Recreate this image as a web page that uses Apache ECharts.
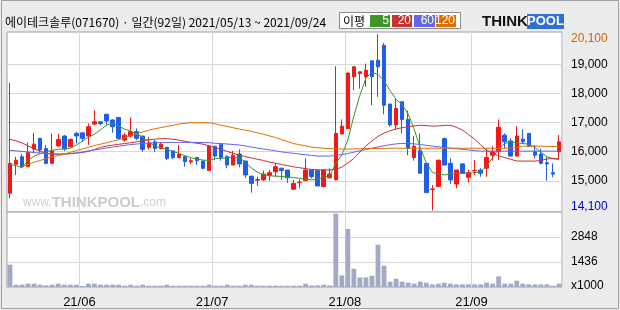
<!DOCTYPE html>
<html><head><meta charset="utf-8">
<script src="https://cdn.jsdelivr.net/npm/echarts@6/dist/echarts.min.js"></script>
<style>html,body{margin:0;padding:0;background:#ececec}#c{width:620px;height:310px}</style>
</head><body><div id="c"></div>
<script>
// trading days per month
const monthDays = {
  '2021-05': [13,14,17,18,20,21,24,25,26,27,28,31],
  '2021-06': [1,2,3,4,7,8,9,10,11,14,15,16,17,18,21,22,23,24,25,28,29,30],
  '2021-07': [1,2,5,6,7,8,9,12,13,14,15,16,19,20,21,22,23,26,27,28,29,30],
  '2021-08': [2,3,4,5,6,9,10,11,12,13,17,18,19,20,23,24,25,26,27,30,31],
  '2021-09': [1,2,3,6,7,8,9,10,13,14,15,16,17,23,24]
};
const dates = [];
Object.keys(monthDays).forEach(m => monthDays[m].forEach(d => dates.push(m + '-' + String(d).padStart(2,'0'))));

const open  = [14570,15570,15830,15480,16090,16460,16110,15600,16200,16540,16170,16630,16650,16540,16950,17030,17290,17090,17180,16400,16540,16690,16540,16150,16340,16110,16150,16030,15800,15830,15650,15800,15680,15350,16190,16260,15830,15540,15920,15680,15160,15020,15030,15190,15310,15430,15370,14710,14930,15000,15370,15350,14800,15100,15030,16610,16800,18580,18690,18580,19130,19150,19660,17640,16920,17720,17110,15800,16030,15600,14700,14800,16450,15600,14890,15580,15120,15340,15370,15430,15880,16000,16570,16370,15850,16430,16630,16000,15920,15620,15280,16000];
const close = [15600,15710,15480,15980,16260,16060,15600,16030,16420,16090,16420,16540,16460,16860,17030,16970,17060,16860,16460,16570,16690,16460,16080,16290,16110,16260,15770,15800,15910,15660,15690,15690,15430,16200,15850,15790,15540,15880,15580,15200,14910,15040,15230,15280,15480,15350,15100,14910,14950,15370,15140,14820,15370,15230,16630,16880,18710,18920,18750,18800,18580,18920,17600,16920,17490,17110,16110,16190,15260,14590,14720,15710,15540,15030,15370,15260,15280,15350,15260,15800,16000,16840,16340,15850,16540,16340,16190,15880,15600,15580,15230,16340];
const low   = [14400,15200,15430,15480,15940,15960,15570,15570,16170,16030,16150,16280,16340,16230,16910,16910,16910,16650,16420,16340,16490,16400,16000,16080,16000,16080,15710,15740,15770,15480,15570,15540,15390,15350,15710,15690,15430,15540,15460,15100,14590,14820,15000,15000,15140,15030,14930,14680,14740,15000,15080,14820,14800,15080,15030,16610,16800,18120,18170,18230,17600,17890,17290,16860,16770,16630,15880,15690,15260,14590,13980,14800,15540,14890,14740,15230,14930,15200,15140,15140,15690,15710,16110,15830,15830,16260,16170,15770,15570,15000,15120,15770];
const high  = [18370,15830,15920,16320,16650,16460,16230,16630,16610,16570,16460,16690,16650,16970,17430,17030,17290,17110,17180,16650,17180,16800,16540,16510,16400,16310,16170,16030,16230,15850,15770,15800,15680,16230,16190,16260,15880,16030,16080,15680,15160,15140,15350,15370,15600,15460,15370,15030,15050,15770,15370,15350,15390,15430,18940,17110,18710,18940,18750,19030,19130,20050,19740,17640,17830,17720,17410,16540,16630,15600,14850,15710,16490,15770,15370,15600,15370,15710,15430,16110,16190,17110,16630,16460,16880,16770,16630,16230,16110,15830,15600,16570];
const volume = [1272,133,133,190,190,133,95,133,190,133,133,133,57,190,190,133,133,133,133,76,133,76,133,76,76,76,133,76,76,76,76,76,76,133,76,76,133,76,76,133,133,76,76,76,76,76,76,76,76,190,95,95,133,95,4176,665,3304,1044,551,551,646,2411,1215,304,475,304,247,190,304,247,152,190,247,190,152,152,152,152,152,247,190,608,190,190,361,190,152,152,152,152,76,190];
const ma5   = [15560,15520,15450,15700,15850,15930,15990,16050,16085,16100,16120,16230,16365,16500,16600,16750,16915,16980,16880,16780,16710,16610,16495,16350,16180,16140,16075,16010,15945,15860,15790,15750,15710,15700,15760,15775,15790,15804,15780,15660,15440,15300,15210,15170,15160,15150,15135,15110,15085,15060,15030,15060,15110,15170,15600,15880,16400,17230,17945,18540,18740,18650,18450,18100,17800,17620,17300,16770,16140,15620,15290,15230,15200,15230,15255,15255,15255,15280,15310,15500,15800,16100,16280,16340,16310,16280,16260,16150,15980,15830,15760,15730];
const ma20  = [16430,16370,16300,16200,16100,16020,15950,15915,15915,15915,15930,15950,15975,16010,16080,16150,16195,16225,16255,16280,16310,16340,16380,16410,16430,16450,16450,16430,16400,16360,16320,16290,16260,16200,16140,16080,16010,15942,15890,15830,15785,15740,15700,15640,15605,15560,15520,15480,15450,15415,15390,15380,15370,15375,15390,15470,15610,15770,15990,16200,16370,16530,16640,16720,16780,16830,16860,16890,16910,16900,16880,16890,16905,16910,16840,16745,16590,16440,16240,16050,15940,15860,15800,15740,15680,15678,15678,15678,15700,15750,15770,15760];
const ma60  = [16050,16030,16010,15990,15970,15955,15940,15925,15920,15925,15940,15960,15990,16030,16060,16090,16130,16160,16190,16220,16245,16265,16285,16300,16308,16312,16316,16320,16320,16320,16320,16320,16315,16310,16290,16280,16265,16250,16230,16200,16160,16125,16095,16060,16030,15995,15970,15945,15920,15895,15870,15850,15850,15850,15870,15900,15940,15985,16030,16080,16120,16165,16205,16240,16270,16285,16285,16270,16245,16220,16195,16170,16148,16125,16100,16080,16060,16035,16020,16020,16020,16020,16020,16020,16020,16020,16020,16020,16020,16020,16020,16020];
const ma120 = [null,null,15480,15560,15640,15700,15760,15820,15870,15920,15980,16040,16090,16150,16210,16260,16310,16360,16410,16480,16560,16620,16680,16740,16790,16830,16870,16910,16950,16980,17000,17000,17000,16995,16960,16910,16870,16823,16780,16740,16700,16650,16600,16545,16490,16420,16350,16280,16240,16200,16160,16135,16120,16110,16100,16090,16090,16095,16100,16105,16110,16113,16115,16120,16125,16120,16120,16120,16120,16120,16120,16120,16120,16120,16120,16120,16120,16120,16120,16120,16120,16120,16120,16120,16150,16190,16190,16190,16190,16185,16180,16180];

const priceGridValues = [15000,16000,17000,18000,19000];
const priceLabelValues = [14100,15000,16000,17000,18000,19000,20100];
const volumeLabelValues = [1436,2848];
const titleText = '에이테크솔루(071670) · 일간(92일) 2021/05/13 ~ 2021/09/24';
const maNames = ['5','20','60','120'];

const C_UP = '#f01818', C_DN = '#1f5ee6';
const MA_COL = ['#3c9628','#c83232','#6464e6','#e07000'];
const LAT = '"Liberation Sans", Arial, sans-serif';
const KR = '"Noto Sans CJK KR", sans-serif';

const kdata = dates.map((d,i) => [open[i], close[i], low[i], high[i]]);
const isMonthStart = i => i > 0 && dates[i].slice(5,7) !== dates[i-1].slice(5,7);
const fmt = v => Number(v).toLocaleString('en-US');
const maxLbl = Math.max(...priceLabelValues), minLbl = Math.min(...priceLabelValues);

const chart = echarts.init(document.getElementById('c'));
const splitX = {show:true, interval:(i)=>isMonthStart(i), lineStyle:{color:'#d8d8d8', width:1}};
const legendG = [];
const lx = [370,392,414,436], lw = [20,20,21,20];
maNames.forEach((n,k)=>{
  legendG.push({type:'rect', shape:{x:lx[k], y:15, width:lw[k], height:12}, style:{fill:MA_COL[k]}});
  legendG.push({type:'text', x:lx[k]+lw[k]-1, y:21, style:{text:n, fill:'#fff', font:'12px '+LAT, align:'right', verticalAlign:'middle'}});
});

chart.setOption({
  backgroundColor:'#ececec',
  animation:false,
  grid:[
    {left:7, right:58, top:32, height:180, show:true, backgroundColor:'#fff', borderColor:'#a0a0a0', borderWidth:1},
    {left:7, right:58, top:212, height:75, show:true, backgroundColor:'#fff', borderColor:'#a0a0a0', borderWidth:1}
  ],
  xAxis:[
    {type:'category', gridIndex:0, data:dates, boundaryGap:true, axisLine:{show:false}, axisTick:{show:false}, axisLabel:{show:false}, splitLine:splitX},
    {type:'category', gridIndex:1, data:dates, boundaryGap:true, axisLine:{show:false}, axisTick:{show:false},
      axisLabel:{show:true, interval:(i)=>isMonthStart(i), formatter:v=>v.slice(2,4)+'/'+v.slice(5,7), margin:9, padding:[0,6,0,0], fontSize:13, fontFamily:LAT, color:'#000'},
      splitLine:splitX}
  ],
  yAxis:[
    {type:'value', gridIndex:0, position:'right', min:13925, max:20120, scale:true,
      axisLine:{show:false}, axisTick:{show:false, customValues:priceGridValues},
      splitLine:{show:true, lineStyle:{color:'#d8d8d8'}},
      axisLabel:{customValues:priceLabelValues, margin:9, fontSize:12, fontFamily:LAT, color:'#000',
        formatter:v=> v===maxLbl ? '{hi|'+fmt(v)+'}' : (v===minLbl ? '{lo|'+fmt(v)+'}' : fmt(v)),
        rich:{hi:{color:'#cc6600', fontSize:12, fontFamily:LAT, padding:[12,0,0,0]}, lo:{color:'#0000cc', fontSize:12, fontFamily:LAT}}}},
    {type:'value', gridIndex:1, position:'right', min:0, max:4272,
      axisLine:{show:false}, axisTick:{show:false, customValues:volumeLabelValues},
      splitLine:{show:true, lineStyle:{color:'#d8d8d8'}},
      axisLabel:{customValues:volumeLabelValues, formatter:v=>String(v), margin:9, fontSize:12, fontFamily:LAT, color:'#000'}}
  ],
  series:[
    {type:'candlestick', xAxisIndex:0, yAxisIndex:0, data:kdata, barWidth:4,
      itemStyle:{color:C_UP, color0:C_DN, borderColor:C_UP, borderColor0:C_DN, borderWidth:1}, z:2},
    ...[ma5,ma20,ma60,ma120].map((d,k)=>({type:'line', xAxisIndex:0, yAxisIndex:0, data:d, symbol:'none', showSymbol:false, lineStyle:{color:MA_COL[k], width:1}, z:3})),
    {type:'bar', xAxisIndex:1, yAxisIndex:1, data:volume, barWidth:'80%', itemStyle:{color:'#a3abc4'}}
  ],
  graphic:[
    {type:'rect', shape:{x:1.5, y:0.5, width:617, height:308}, style:{fill:null, stroke:'#a0a0a0', lineWidth:1}, silent:true},
    {type:'text', x:5, y:22, style:{text:titleText, font:'12px '+KR, fill:'#000', verticalAlign:'middle'}},
    {type:'rect', shape:{x:339.5, y:12.5, width:121, height:16}, style:{fill:'#fff', stroke:'#8a8a8a', lineWidth:1}},
    {type:'text', x:343, y:21, style:{text:'이평', font:'12px '+KR, fill:'#000', verticalAlign:'middle'}},
    ...legendG,
    {type:'text', x:482, y:21.5, style:{text:'THINK', font:'bold 15px '+LAT, fill:'#111', verticalAlign:'middle'}},
    {type:'rect', shape:{x:527, y:14, width:37, height:15}, style:{fill:'#2f6fd8'}},
    {type:'text', x:545.5, y:21.5, style:{text:'POOL', font:'bold 13px '+LAT, fill:'#fff', align:'center', verticalAlign:'middle'}},
    {type:'text', x:23, y:203, z:1, style:{text:'{s|www.}{b|THINKPOOL}{s|.com}', verticalAlign:'middle',
      rich:{s:{font:'12px '+LAT, fill:'#d0d0d0'}, b:{font:'bold 15px '+LAT, fill:'#cccccc'}}}},
    {type:'text', x:571, y:286, style:{text:'x1000', font:'12px '+LAT, fill:'#000', verticalAlign:'middle'}}
  ]
});
</script></body></html>
